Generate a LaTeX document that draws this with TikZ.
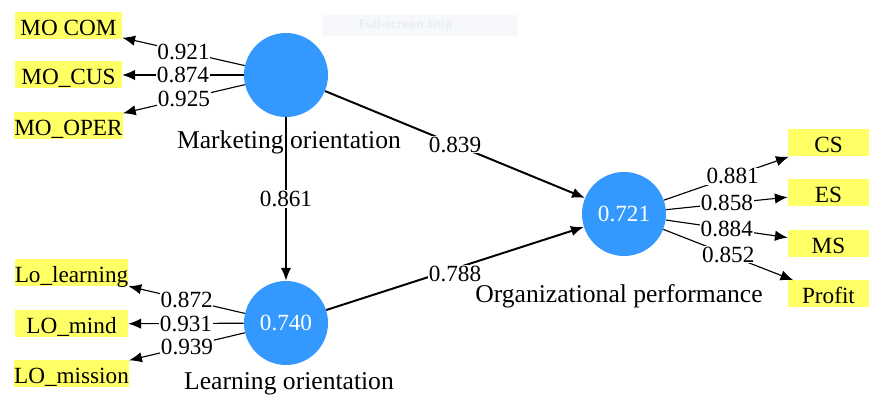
\documentclass[tikz,border=0pt]{standalone}
\usepackage{fontspec}
\setmainfont{Liberation Serif}
\newfontfamily\snipfont{Open Sans}
\usepackage{tikz}
\usetikzlibrary{arrows.meta}
\usepackage{xcolor}
\definecolor{plsblue}{HTML}{3399FF}
\definecolor{plsyellow}{HTML}{FFFF66}
\definecolor{snipfill}{HTML}{F7F8FB}
\definecolor{sniptext}{HTML}{EAEDF3}

\tikzset{
  latent/.style={circle, fill=plsblue, minimum size=2.1cm, inner sep=0pt,
    text=white, font=\fontsize{16.5}{19}\selectfont},
  indic/.style={rectangle, fill=plsyellow, minimum height=0.675cm,
    inner sep=0pt, text height=0.55cm, text depth=0.07cm,
    font=\fontsize{16.5}{19}\selectfont},
  latname/.style={font=\fontsize{18.2}{21}\selectfont},
  weight/.style={midway, fill=white, inner sep=0.5pt,
    font=\fontsize{16.5}{19}\selectfont},
  loading/.style={->, line width=0.8pt},
  inner/.style={->, line width=1.4pt},
}

\begin{document}
\begin{tikzpicture}[>={Latex[length=0.32cm, width=0.26cm]}]
  \useasboundingbox (0, 0) rectangle (21.725, 9.9);

  % screen snip leftover
  \node[fill=snipfill, minimum width=4.9cm, minimum height=0.525cm] (snip)
    at (10.5, 9.2625) {};
  \node[text=sniptext, font=\fontsize{8.5}{10}\selectfont\snipfont\bfseries]
    (sniptxt) at (10.15, 9.2625) {Full-screen Snip};

  % Latent variables
  \node[latent] (mo) at (7.15, 8.025) {};
  \node[latent] (lo) at (7.15, 1.825) {0.740};
  \node[latent] (op) at (15.6, 4.55) {0.721};
  \node[latname] (moname) at (7.225, 6.35) {Marketing orientation};
  \node[latname] (loname) at (7.225, 0.31) {Learning orientation};
  \node[latname] (opname) at (15.475, 2.5) {Organizational performance};

  % Indicators
  \node[indic, minimum width=2.675cm] (mocom) at (1.7125, 9.2625) {MO COM};
  \node[indic, minimum width=2.675cm] (mocus) at (1.7125, 8.025) {MO\_CUS};
  \node[indic, minimum width=2.675cm] (mooper) at (1.7125, 6.75) {MO\_OPER};
  \node[indic, minimum width=2.825cm] (lolearn) at (1.7875, 3.075) {Lo\_learning};
  \node[indic, minimum width=2.825cm] (lomind) at (1.7875, 1.8) {LO\_mind};
  \node[indic, minimum width=2.825cm] (lomission) at (1.7875, 0.55) {LO\_mission};
  \node[indic, minimum width=2.025cm] (cs) at (20.7125, 6.325) {CS};
  \node[indic, minimum width=2.025cm] (es) at (20.7125, 5.075) {ES};
  \node[indic, minimum width=2.025cm] (ms) at (20.7125, 3.8125) {MS};
  \node[indic, minimum width=2.025cm] (profit) at (20.7125, 2.55) {Profit};

  % Outer loadings
  \draw[loading] (mo) -- (mocom) node[weight] {0.921};
  \draw[loading] (mo) -- (mocus) node[weight] {0.874};
  \draw[loading] (mo) -- (mooper) node[weight] {0.925};
  \draw[loading] (lo) -- (lolearn) node[weight] {0.872};
  \draw[loading] (lo) -- (lomind) node[weight] {0.931};
  \draw[loading] (lo) -- (lomission) node[weight] {0.939};
  \draw[loading] (op) -- (cs) node[weight, pos=0.55] {0.881};
  \draw[loading] (op) -- (es) node[weight] {0.858};
  \draw[loading] (op) -- (ms) node[weight] {0.884};
  \draw[loading] (op) -- (profit) node[weight] {0.852};

  % Path coefficients
  \draw[inner] (mo) -- (lo) node[weight] {0.861};
  \draw[inner] (mo) -- (op) node[weight] {0.839};
  \draw[inner] (lo) -- (op) node[weight, yshift=-0.125cm] {0.788};
\end{tikzpicture}
\end{document}
